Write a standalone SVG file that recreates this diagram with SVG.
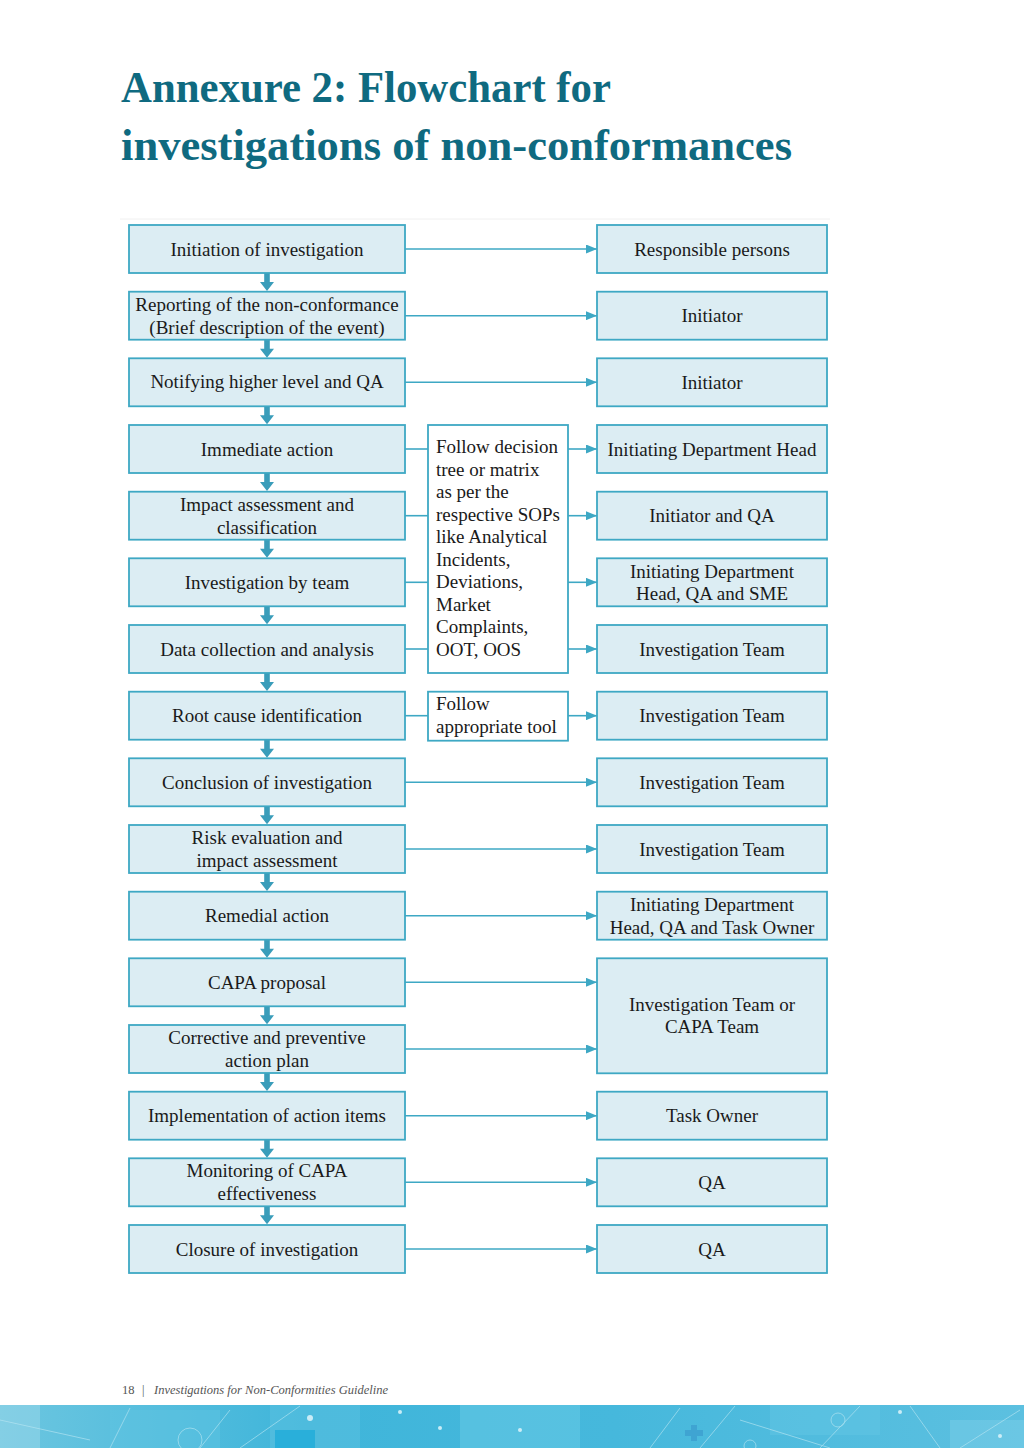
<svg xmlns="http://www.w3.org/2000/svg" xmlns:xlink="http://www.w3.org/1999/xlink" width="1024" height="1448" viewBox="0 0 1024 1448">
<style>
.box{fill:#dcedf3;stroke:#3ea8c4;stroke-width:1.8}
.mbox{fill:#ffffff;stroke:#3ea8c4;stroke-width:1.8}
.t{font-family:"Liberation Serif","Times New Roman",serif;font-size:19px;fill:#1a1a1a;text-anchor:middle}
.tl{font-family:"Liberation Serif","Times New Roman",serif;font-size:19px;fill:#1a1a1a}
.ln{stroke:#3ea8c4;stroke-width:1.6;fill:none}
.title{font-family:"Liberation Serif","Times New Roman",serif;font-size:45px;font-weight:bold;fill:#0f6a80}
.foot{font-family:"Liberation Serif","Times New Roman",serif;font-size:12.5px;fill:#555}
</style>
<defs>
<marker id="ah" markerWidth="11" markerHeight="9" refX="11" refY="4.5" orient="auto" markerUnits="userSpaceOnUse">
<path d="M0,0 L11,4.5 L0,9 Z" fill="#3ea8c4"/>
</marker>
<path id="darr" d="M-2.8,0 H2.8 V9 H7 L0,18 L-7,9 H-2.8 Z" fill="#3a9dba"/>
<linearGradient id="band" x1="0" y1="0" x2="1" y2="0">
<stop offset="0" stop-color="#6cc6e0"/>
<stop offset="0.3" stop-color="#3fb5da"/>
<stop offset="0.6" stop-color="#46b8dc"/>
<stop offset="1" stop-color="#5cc0e0"/>
</linearGradient>
</defs>
<rect width="1024" height="1448" fill="#ffffff"/>

<text class="title" x="121" y="102" textLength="490" lengthAdjust="spacingAndGlyphs">Annexure 2: Flowchart for</text>
<text class="title" x="121" y="160" textLength="671" lengthAdjust="spacingAndGlyphs">investigations of non-conformances</text>

<line x1="120" y1="219" x2="830" y2="219" stroke="#f0f0f0" stroke-width="1"/>

<g id="connectors">
<line class="ln" x1="405" y1="249" x2="597" y2="249" marker-end="url(#ah)"/>
<line class="ln" x1="405" y1="315.7" x2="597" y2="315.7" marker-end="url(#ah)"/>
<line class="ln" x1="405" y1="382.3" x2="597" y2="382.3" marker-end="url(#ah)"/>
<line class="ln" x1="405" y1="449" x2="428" y2="449"/>
<line class="ln" x1="568" y1="449" x2="597" y2="449" marker-end="url(#ah)"/>
<line class="ln" x1="405" y1="515.7" x2="428" y2="515.7"/>
<line class="ln" x1="568" y1="515.7" x2="597" y2="515.7" marker-end="url(#ah)"/>
<line class="ln" x1="405" y1="582.3" x2="428" y2="582.3"/>
<line class="ln" x1="568" y1="582.3" x2="597" y2="582.3" marker-end="url(#ah)"/>
<line class="ln" x1="405" y1="649" x2="428" y2="649"/>
<line class="ln" x1="568" y1="649" x2="597" y2="649" marker-end="url(#ah)"/>
<line class="ln" x1="405" y1="715.7" x2="428" y2="715.7"/>
<line class="ln" x1="568" y1="715.7" x2="597" y2="715.7" marker-end="url(#ah)"/>
<line class="ln" x1="405" y1="782.3" x2="597" y2="782.3" marker-end="url(#ah)"/>
<line class="ln" x1="405" y1="849" x2="597" y2="849" marker-end="url(#ah)"/>
<line class="ln" x1="405" y1="915.7" x2="597" y2="915.7" marker-end="url(#ah)"/>
<line class="ln" x1="405" y1="982.3" x2="597" y2="982.3" marker-end="url(#ah)"/>
<line class="ln" x1="405" y1="1049" x2="597" y2="1049" marker-end="url(#ah)"/>
<line class="ln" x1="405" y1="1115.7" x2="597" y2="1115.7" marker-end="url(#ah)"/>
<line class="ln" x1="405" y1="1182.3" x2="597" y2="1182.3" marker-end="url(#ah)"/>
<line class="ln" x1="405" y1="1249" x2="597" y2="1249" marker-end="url(#ah)"/>
<use xlink:href="#darr" x="267" y="273"/>
<use xlink:href="#darr" x="267" y="339.7"/>
<use xlink:href="#darr" x="267" y="406.3"/>
<use xlink:href="#darr" x="267" y="473"/>
<use xlink:href="#darr" x="267" y="539.7"/>
<use xlink:href="#darr" x="267" y="606.3"/>
<use xlink:href="#darr" x="267" y="673"/>
<use xlink:href="#darr" x="267" y="739.7"/>
<use xlink:href="#darr" x="267" y="806.3"/>
<use xlink:href="#darr" x="267" y="873"/>
<use xlink:href="#darr" x="267" y="939.7"/>
<use xlink:href="#darr" x="267" y="1006.3"/>
<use xlink:href="#darr" x="267" y="1073"/>
<use xlink:href="#darr" x="267" y="1139.7"/>
<use xlink:href="#darr" x="267" y="1206.3"/>
</g>

<g id="left-nodes">
<g id="n1"><rect class="box" x="129" y="225" width="276" height="48"/><text class="t" x="267" y="256">Initiation of investigation</text></g>
<g id="n2"><rect class="box" x="129" y="291.7" width="276" height="48"/><text class="t" x="267" y="311">Reporting of the non-conformance</text><text class="t" x="267" y="334">(Brief description of the event)</text></g>
<g id="n3"><rect class="box" x="129" y="358.3" width="276" height="48"/><text class="t" x="267" y="388">Notifying higher level and QA</text></g>
<g id="n4"><rect class="box" x="129" y="425" width="276" height="48"/><text class="t" x="267" y="456">Immediate action</text></g>
<g id="n5"><rect class="box" x="129" y="491.7" width="276" height="48"/><text class="t" x="267" y="511">Impact assessment and</text><text class="t" x="267" y="534">classification</text></g>
<g id="n6"><rect class="box" x="129" y="558.3" width="276" height="48"/><text class="t" x="267" y="589">Investigation by team</text></g>
<g id="n7"><rect class="box" x="129" y="625" width="276" height="48"/><text class="t" x="267" y="656">Data collection and analysis</text></g>
<g id="n8"><rect class="box" x="129" y="691.7" width="276" height="48"/><text class="t" x="267" y="722">Root cause identification</text></g>
<g id="n9"><rect class="box" x="129" y="758.3" width="276" height="48"/><text class="t" x="267" y="789">Conclusion of investigation</text></g>
<g id="n10"><rect class="box" x="129" y="825" width="276" height="48"/><text class="t" x="267" y="844">Risk evaluation and</text><text class="t" x="267" y="867">impact assessment</text></g>
<g id="n11"><rect class="box" x="129" y="891.7" width="276" height="48"/><text class="t" x="267" y="922">Remedial action</text></g>
<g id="n12"><rect class="box" x="129" y="958.3" width="276" height="48"/><text class="t" x="267" y="989">CAPA proposal</text></g>
<g id="n13"><rect class="box" x="129" y="1025" width="276" height="48"/><text class="t" x="267" y="1044">Corrective and preventive</text><text class="t" x="267" y="1067">action plan</text></g>
<g id="n14"><rect class="box" x="129" y="1091.7" width="276" height="48"/><text class="t" x="267" y="1122">Implementation of action items</text></g>
<g id="n15"><rect class="box" x="129" y="1158.3" width="276" height="48"/><text class="t" x="267" y="1177">Monitoring of CAPA</text><text class="t" x="267" y="1200">effectiveness</text></g>
<g id="n16"><rect class="box" x="129" y="1225" width="276" height="48"/><text class="t" x="267" y="1256">Closure of investigation</text></g>
</g>

<g id="middle-nodes">
<g id="m1"><rect class="mbox" x="428" y="425" width="140" height="248"/>
<text class="tl" x="436" y="453">Follow decision</text>
<text class="tl" x="436" y="475.5">tree or matrix</text>
<text class="tl" x="436" y="498">as per the</text>
<text class="tl" x="436" y="520.5">respective SOPs</text>
<text class="tl" x="436" y="543">like Analytical</text>
<text class="tl" x="436" y="565.5">Incidents,</text>
<text class="tl" x="436" y="588">Deviations,</text>
<text class="tl" x="436" y="610.5">Market</text>
<text class="tl" x="436" y="633">Complaints,</text>
<text class="tl" x="436" y="655.5">OOT, OOS</text></g>
<g id="m2"><rect class="mbox" x="428" y="691.7" width="140" height="49"/>
<text class="tl" x="436" y="710">Follow</text>
<text class="tl" x="436" y="733">appropriate tool</text></g>
</g>

<g id="right-nodes">
<g id="r1"><rect class="box" x="597" y="225" width="230" height="48"/><text class="t" x="712" y="256">Responsible persons</text></g>
<g id="r2"><rect class="box" x="597" y="291.7" width="230" height="48"/><text class="t" x="712" y="322">Initiator</text></g>
<g id="r3"><rect class="box" x="597" y="358.3" width="230" height="48"/><text class="t" x="712" y="389">Initiator</text></g>
<g id="r4"><rect class="box" x="597" y="425" width="230" height="48"/><text class="t" x="712" y="456">Initiating Department Head</text></g>
<g id="r5"><rect class="box" x="597" y="491.7" width="230" height="48"/><text class="t" x="712" y="522">Initiator and QA</text></g>
<g id="r6"><rect class="box" x="597" y="558.3" width="230" height="48"/><text class="t" x="712" y="578">Initiating Department</text><text class="t" x="712" y="600">Head, QA and SME</text></g>
<g id="r7"><rect class="box" x="597" y="625" width="230" height="48"/><text class="t" x="712" y="656">Investigation Team</text></g>
<g id="r8"><rect class="box" x="597" y="691.7" width="230" height="48"/><text class="t" x="712" y="722">Investigation Team</text></g>
<g id="r9"><rect class="box" x="597" y="758.3" width="230" height="48"/><text class="t" x="712" y="789">Investigation Team</text></g>
<g id="r10"><rect class="box" x="597" y="825" width="230" height="48"/><text class="t" x="712" y="856">Investigation Team</text></g>
<g id="r11"><rect class="box" x="597" y="891.7" width="230" height="48"/><text class="t" x="712" y="911">Initiating Department</text><text class="t" x="712" y="934">Head, QA and Task Owner</text></g>
<g id="r12"><rect class="box" x="597" y="958.3" width="230" height="115"/><text class="t" x="712" y="1011">Investigation Team or</text><text class="t" x="712" y="1033">CAPA Team</text></g>
<g id="r13"><rect class="box" x="597" y="1091.7" width="230" height="48"/><text class="t" x="712" y="1122">Task Owner</text></g>
<g id="r14"><rect class="box" x="597" y="1158.3" width="230" height="48"/><text class="t" x="712" y="1189">QA</text></g>
<g id="r15"><rect class="box" x="597" y="1225" width="230" height="48"/><text class="t" x="712" y="1256">QA</text></g>
</g>

<text class="foot" x="122" y="1394" fill="#333">18</text>
<text class="foot" x="142" y="1394">|</text>
<text class="foot" x="154" y="1394" font-style="italic" textLength="234" lengthAdjust="spacingAndGlyphs">Investigations for Non-Conformities Guideline</text>

<g id="band-deco">
<rect x="0" y="1405" width="1024" height="43" fill="url(#band)"/>
<rect x="0" y="1405" width="40" height="43" fill="#9bd8ea" opacity="0.5"/>
<rect x="110" y="1410" width="110" height="38" fill="#5dc3e2" opacity="0.5"/>
<rect x="270" y="1405" width="90" height="43" fill="#58bfe0" opacity="0.6"/>
<rect x="275" y="1430" width="40" height="18" fill="#1aaad8" opacity="0.7"/>
<rect x="460" y="1405" width="120" height="43" fill="#6acbe6" opacity="0.5"/>
<rect x="770" y="1405" width="110" height="30" fill="#62c6e4" opacity="0.5"/>
<rect x="950" y="1420" width="74" height="28" fill="#75cbe6" opacity="0.6"/>
<g stroke="#b8e6f3" stroke-width="0.8" fill="none" opacity="0.8">
<line x1="0" y1="1420" x2="90" y2="1440"/>
<line x1="110" y1="1448" x2="130" y2="1408"/>
<line x1="200" y1="1448" x2="230" y2="1410"/>
<line x1="240" y1="1448" x2="300" y2="1406"/>
<line x1="650" y1="1448" x2="680" y2="1408"/>
<line x1="700" y1="1448" x2="735" y2="1406"/>
<line x1="740" y1="1420" x2="830" y2="1448"/>
<line x1="820" y1="1448" x2="860" y2="1406"/>
<line x1="910" y1="1406" x2="940" y2="1448"/>
<line x1="960" y1="1448" x2="1020" y2="1410"/>
<circle cx="190" cy="1440" r="12"/>
<circle cx="838" cy="1420" r="7"/>
<circle cx="750" cy="1446" r="6"/>
</g>
<g fill="#d8f2fa" opacity="0.9">
<circle cx="310" cy="1418" r="3"/>
<circle cx="400" cy="1412" r="2"/>
<circle cx="440" cy="1428" r="2"/>
<circle cx="520" cy="1430" r="2"/>
<circle cx="900" cy="1412" r="2"/>
<circle cx="1000" cy="1436" r="2"/>
</g>
<path d="M685,1430 h6 v-5 h6 v5 h6 v6 h-6 v5 h-6 v-5 h-6 Z" fill="#3c9fd0" opacity="0.8"/>
</g>
</svg>
